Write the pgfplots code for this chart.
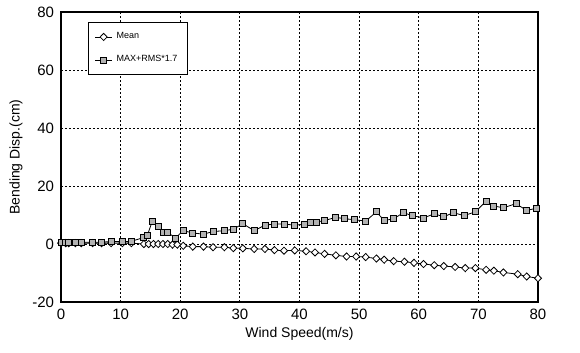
\documentclass[border=0pt]{standalone}
\usepackage{pgfplots}
\pgfplotsset{compat=1.18}
\usepackage{fontspec}
\setmainfont{Liberation Sans}
\begin{document}
\begin{tikzpicture}
\begin{axis}[
  scale only axis, width=238.5pt, height=145pt,
  xmin=0, xmax=80, ymin=-20, ymax=80,
  xtick={0,10,...,80}, ytick={-20,0,...,80},
  /pgf/number format/assume math mode=true,
  tick label style={font=\fontsize{7.5}{8}\selectfont},
  major tick length=0pt,
  grid=major,
  major grid style={black, line width=0.5pt, dash pattern=on 1pt off 1pt},
  axis line style={black, line width=0.7pt},
  xlabel={Wind Speed(m/s)}, ylabel={Bending Disp.(cm)},
  label style={font=\fontsize{7}{8}\selectfont},
  xlabel style={yshift=3pt}, ylabel style={yshift=-2pt},
  legend style={at={(0.057,0.966)}, anchor=north west, draw=black, line width=0.5pt,
    font=\fontsize{4.5}{5}\selectfont, row sep=3pt, inner sep=3pt},
  legend cell align=left,
  legend image code/.code={\draw[mark repeat=2,mark phase=2] plot coordinates {(0cm,0cm)(0.15cm,0cm)(0.3cm,0cm)};},
]
\addplot[black, line width=0.4pt, mark=diamond*, mark size=1.8pt, mark options={fill=white, line width=0.4pt, xscale=1.3}] coordinates {
(0,0.3)(0.8,0.3)(1.3,0.3)(2.4,0.3)(3.4,0.3)(5.3,0.3)(6.8,0.3)(8.4,0.3)(10.3,0.3)(11.8,0.3)
(13.9,0.0)(14.7,0)(15.5,0)(16.3,0)(17.1,0)(17.9,0)(18.7,-0.2)(19.5,-0.2)(20.5,-0.6)(22.1,-0.9)
(23.9,-0.9)(25.5,-1.1)(27.4,-1.1)(28.9,-1.4)(30.5,-1.5)(32.4,-1.7)(34.2,-1.7)(35.8,-2.1)(37.4,-2.3)
(39.2,-2.2)(41.1,-2.5)(42.6,-2.9)(44.2,-3.4)(46.1,-3.9)(47.9,-4.3)(49.5,-4.3)(51.1,-4.5)(52.9,-5.0)
(54.2,-5.4)(55.8,-5.9)(57.6,-6.1)(59.2,-6.5)(60.8,-6.9)(62.6,-7.3)(64.2,-7.6)(66.1,-7.9)(67.8,-8.3)
(69.5,-8.3)(71.3,-8.9)(72.6,-9.2)(74.2,-9.8)(76.6,-10.4)(78.1,-11.2)(80,-11.8)
};
\addlegendentry{Mean}
\addplot[black, line width=0.4pt, mark=square*, mark size=1.5pt, mark options={fill=gray!60, line width=0.4pt}] coordinates {
(0,0.6)(0.8,0.6)(1.3,0.6)(2.4,0.6)(3.4,0.6)(5.3,0.6)(6.8,0.6)(8.4,0.9)(10.3,0.8)(11.8,0.9)
(13.9,2.3)(14.5,3.1)(15.3,7.8)(16.3,6.1)(17.1,4.0)(17.9,4.0)(19.2,2.1)(20.5,4.6)(22.1,3.8)(23.9,3.4)
(25.5,4.3)(27.4,4.6)(28.9,5.1)(30.5,7.0)(32.4,4.6)(34.2,6.5)(35.8,6.9)(37.4,6.9)(39.2,6.5)(40.8,6.8)
(41.8,7.3)(42.9,7.6)(44.2,8.1)(46.1,9.2)(47.6,8.7)(49.2,8.4)(51.1,7.9)(52.9,11.1)(54.2,8.1)(55.8,8.7)
(57.4,10.8)(58.9,9.8)(60.8,9.0)(62.6,10.4)(64.2,9.4)(65.8,10.8)(67.6,9.8)(69.5,11.1)(71.3,14.8)
(72.6,13.1)(74.2,12.5)(76.3,13.9)(78.1,11.6)(79.7,12.3)
};
\addlegendentry{MAX+RMS*1.7}
\end{axis}
\pgfresetboundingbox
\useasboundingbox (current axis.south west) ++(-30.5pt,-25pt) rectangle ([shift={(21pt,6pt)}]current axis.north east);
\end{tikzpicture}
\end{document}
